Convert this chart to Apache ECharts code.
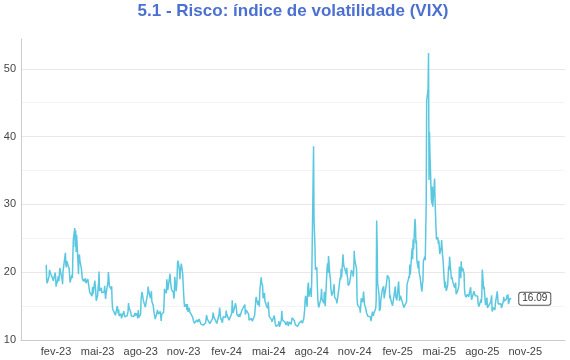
<!DOCTYPE html>
<html><head><meta charset="utf-8">
<script src="https://cdn.jsdelivr.net/npm/echarts@6/dist/echarts.min.js"></script>
<style>html,body{margin:0;padding:0;background:#fff}#c{width:570px;height:360px}</style>
</head><body><div id="c"></div>
<script>
const chartTitle = '5.1 - Risco: índice de volatilidade (VIX)';

// Trading days per month (index 0 = January), and VIX closes for those days
const days2023 = [
  '11 12 13 17 18 19 20 23 24 25 26 27 30 31',
  '1 2 3 6 7 8 9 10 13 14 15 16 17 21 22 23 24 27 28',
  '1 2 3 6 7 8 9 10 13 14 15 16 17 20 21 22 23 24 27 28 29 30 31',
  '3 4 5 6 10 11 12 13 14 17 18 19 20 21 24 25 26 27 28',
  '1 2 3 4 5 8 9 10 11 12 15 16 17 18 19 22 23 24 25 26 30 31',
  '1 2 5 6 7 8 9 12 13 14 15 16 20 21 22 23 26 27 28 29 30',
  '3 5 6 7 10 11 12 13 14 17 18 19 20 21 24 25 26 27 28 31',
  '1 2 3 4 7 8 9 10 11 14 15 16 17 18 21 22 23 24 25 28 29 30 31',
  '1 5 6 7 8 11 12 13 14 15 18 19 20 21 22 25 26 27 28 29',
  '2 3 4 5 6 9 10 11 12 13 16 17 18 19 20 23 24 25 26 27 30 31',
  '1 2 3 6 7 8 9 10 13 14 15 16 17 20 21 22 24 27 28 29 30',
  '1 4 5 6 7 8 11 12 13 14 15 18 19 20 21 22 26 27 28 29'
];
const vix2023 = [
  [21.09,18.83,18.35,19.36,20.34,20.52,19.85,19.81,19.20,19.08,18.73,18.51,19.94,19.40],
  [17.87,18.73,18.33,19.43,18.66,19.63,20.63,20.53,20.34,18.91,18.23,20.17,20.02,22.87,21.14,20.70,21.67,20.95,20.70],
  [20.58,19.59,18.49,18.61,19.59,19.11,22.61,24.80,26.52,23.73,26.14,22.99,25.51,21.38,19.75,22.26,22.61,21.74,20.60,19.97,19.12,19.02,18.70],
  [19.00,18.58,19.08,18.40,18.97,19.09,19.09,18.91,17.07,17.07,16.83,16.46,17.80,16.77,16.89,18.76,18.84,17.03,15.78],
  [16.59,17.78,18.34,20.09,17.19,16.98,17.71,16.94,16.93,17.03,17.12,17.99,16.87,16.05,16.81,16.87,18.53,20.03,19.14,17.95,17.46,17.94],
  [15.65,14.60,14.73,13.96,13.94,13.65,13.83,15.01,14.61,13.88,14.50,13.54,13.88,13.20,12.91,13.44,14.25,13.74,13.43,13.54,13.59],
  [13.57,14.18,15.44,14.83,14.84,14.06,13.54,13.61,13.34,13.48,13.30,13.76,13.99,13.60,13.91,13.86,13.19,14.41,13.33,13.63],
  [13.93,16.09,15.92,17.10,15.77,15.99,15.96,15.85,14.84,14.82,16.46,16.78,17.89,17.30,17.13,16.14,15.98,17.20,15.68,15.08,14.45,13.88,13.57],
  [13.09,14.02,14.45,14.40,13.84,13.80,14.23,13.48,12.82,13.79,14.00,14.11,15.14,17.54,17.20,16.90,18.94,18.22,17.34,17.52],
  [17.61,19.78,18.58,18.49,17.45,17.70,17.03,16.09,16.69,19.32,17.21,17.88,19.22,21.40,21.71,20.37,18.97,20.19,20.68,21.27,19.75,18.14],
  [16.87,15.66,14.91,14.89,15.29,14.45,15.29,14.17,14.76,14.16,14.18,14.32,13.80,13.41,13.35,12.85,12.46,12.69,12.69,12.98,12.92],
  [12.63,13.08,12.85,12.97,12.93,12.35,12.63,12.07,12.19,12.48,12.28,12.56,12.53,13.67,13.65,13.03,12.99,12.43,12.47,12.45]
];
const days2024 = [
  '2 3 4 5 8 9 10 11 12 16 17 18 19 22 23 24 25 26 29 30 31',
  '1 2 5 6 7 8 9 12 13 14 15 16 20 21 22 23 26 27 28 29',
  '1 4 5 6 7 8 11 12 13 14 15 18 19 20 21 22 25 26 27 28',
  '1 2 3 4 5 8 9 10 11 12 15 16 17 18 19 22 23 24 25 26 29 30',
  '1 2 3 6 7 8 9 10 13 14 15 16 17 20 21 22 23 24 28 29 30 31',
  '3 4 5 6 7 10 11 12 13 14 17 18 20 21 24 25 26 27 28',
  '1 2 3 5 8 9 10 11 12 15 16 17 18 19 22 23 24 25 26 29 30 31',
  '1 2 5 6 7 8 9 12 13 14 15 16 19 20 21 22 23 26 27 28 29 30',
  '3 4 5 6 9 10 11 12 13 16 17 18 19 20 23 24 25 26 27 30',
  '1 2 3 4 7 8 9 10 11 14 15 16 17 18 21 22 23 24 25 28 29 30 31',
  '1 4 5 6 7 8 11 12 13 14 15 18 19 20 21 22 25 26 27 29',
  '2 3 4 5 6 9 10 11 12 13 16 17 18 19 20 23 24 26 27 30 31'
];
const vix2024 = [
  [13.20,14.04,14.13,13.35,13.08,12.76,12.69,12.44,12.70,13.84,14.79,14.13,13.30,13.19,12.55,13.14,13.45,13.26,13.60,13.31,14.35],
  [13.88,13.85,13.67,12.93,12.83,12.79,12.93,13.93,15.85,14.38,14.01,14.24,15.42,15.34,14.54,13.75,13.74,13.43,13.84,13.40],
  [13.11,13.49,14.46,14.50,14.44,14.74,15.23,13.75,13.75,14.40,14.41,14.33,13.82,12.92,13.06,13.06,13.19,12.94,12.78,13.01],
  [13.65,14.61,14.33,16.35,16.03,15.19,14.98,15.80,14.91,17.31,19.23,18.40,18.21,18.00,16.14,16.94,15.69,15.97,15.37,15.03,14.67,15.65],
  [14.68,13.49,13.49,13.23,13.00,12.69,12.69,12.55,13.60,13.42,12.45,12.42,11.99,12.15,11.86,12.29,12.77,11.93,12.92,14.28,13.29,12.92],
  [13.11,13.06,12.63,12.58,12.22,12.74,12.85,12.04,11.94,12.66,12.75,12.30,13.28,13.20,13.33,12.84,12.55,12.24,12.44],
  [12.22,12.03,12.09,12.48,12.37,12.51,12.85,12.89,12.46,13.12,13.19,14.48,15.93,16.52,14.91,14.72,18.04,18.46,16.39,16.60,17.69,16.36],
  [18.59,23.39,38.57,27.71,27.85,23.79,20.37,20.71,18.12,16.19,15.23,14.80,14.65,15.88,16.27,17.55,16.03,16.15,15.43,17.11,15.65,15.00],
  [20.72,21.32,19.90,22.38,19.45,19.08,17.69,17.07,16.56,17.14,17.61,18.23,16.33,16.15,15.89,15.39,15.41,15.37,16.96,16.73],
  [19.26,18.90,20.49,19.21,22.64,21.42,20.86,20.93,20.46,19.70,20.64,19.58,19.11,18.03,18.37,18.20,19.24,19.08,20.33,19.80,19.34,20.35,23.16],
  [21.88,21.98,20.49,16.27,15.20,14.94,14.97,14.71,14.02,14.31,16.14,15.58,16.35,17.16,16.87,15.24,14.60,14.10,14.10,13.51],
  [13.34,13.30,13.45,13.54,12.77,14.19,14.18,13.58,13.92,13.81,14.69,15.87,27.62,24.09,18.36,16.78,14.27,14.73,15.95,17.40,17.35]
];
const days2025 = [
  '2 3 6 7 8 10 13 14 15 16 17 21 22 23 24 27 28 29 30 31',
  '3 4 5 6 7 10 11 12 13 14 18 19 20 21 24 25 26 27 28',
  '3 4 5 6 7 10 11 12 13 14 17 18 19 20 21 24 25 26 27 28 31',
  '1 2 3 4 7 8 9 10 11 14 15 16 17 21 22 23 24 25 28 29 30',
  '1 2 5 6 7 8 9 12 13 14 15 16 19 20 21 22 23 27 28 29 30',
  '2 3 4 5 6 9 10 11 12 13 16 17 18 20 23 24 25 26 27 30',
  '1 2 3 7 8 9 10 11 14 15 16 17 18 21 22 23 24 25 28 29 30 31',
  '1 4 5 6 7 8 11 12 13 14 15 18 19 20 21 22 25 26 27 28 29',
  '2 3 4 5 8 9 10 11 12 15 16 17 18 19 22 23 24 25 26 29 30',
  '1 2'
];
const vix2025 = [
  [17.93,16.13,16.04,17.82,17.70,19.54,19.19,18.71,16.12,16.60,15.97,15.06,15.10,15.02,14.85,17.90,16.41,16.56,15.84,16.43],
  [18.62,17.21,15.77,15.50,16.54,15.81,16.02,15.89,15.10,14.77,15.35,15.27,15.66,18.21,18.98,19.43,19.10,21.13,19.63],
  [22.78,23.51,21.93,24.87,23.37,27.86,26.92,24.23,24.66,21.77,20.51,21.70,19.90,19.80,19.28,17.48,17.15,18.33,18.69,21.65,22.28],
  [21.77,21.51,30.02,45.31,46.98,52.33,33.62,40.72,37.56,30.89,30.12,32.64,29.65,33.82,30.57,28.45,26.47,24.84,25.15,24.17,24.70],
  [24.60,22.68,23.64,24.76,23.55,22.48,21.90,18.39,17.71,18.62,17.83,17.24,18.14,18.09,20.87,20.28,22.29,18.96,19.31,19.18,18.57],
  [18.36,17.69,17.61,18.48,16.77,17.16,16.95,17.26,18.02,20.82,19.11,21.60,20.14,20.62,19.83,17.48,16.76,16.59,16.32,16.73],
  [16.83,16.64,16.38,17.79,16.81,15.94,15.78,16.40,17.20,17.38,17.16,16.52,16.41,16.65,16.50,15.37,15.39,14.93,15.03,15.98,15.48,16.72],
  [20.38,17.52,17.85,16.77,16.57,15.15,16.25,14.73,14.49,14.83,15.09,15.00,15.57,15.69,16.60,14.22,14.79,14.62,14.85,14.43,15.36],
  [17.17,16.35,15.30,15.18,15.11,15.04,15.35,14.71,14.76,15.69,16.36,15.72,15.70,15.45,16.10,16.64,16.18,16.74,15.29,16.12,16.28],
  [16.29,16.09]
];

const tickDates = ['2023-02-01','2023-05-01','2023-08-01','2023-11-01','2024-02-01','2024-05-01',
                   '2024-08-01','2024-11-01','2025-02-01','2025-05-01','2025-08-01','2025-11-01'];
const tickLabels = ['fev-23','mai-23','ago-23','nov-23','fev-24','mai-24',
                    'ago-24','nov-24','fev-25','mai-25','ago-25','nov-25'];
const xStart = '2022-11-18';
const xEnd = '2026-01-25';
const yMin = 10, yMax = 54.4, yStep = 10;

function ts(s) { const p = s.split('-').map(Number); return new Date(p[0], p[1] - 1, p[2]).getTime(); }
const seriesData = [];
function addYear(year, days, vals) {
  days.forEach(function (str, mi) {
    str.split(' ').forEach(function (d, i) {
      seriesData.push([new Date(year, mi, +d).getTime(), vals[mi][i]]);
    });
  });
}
addYear(2023, days2023, vix2023);
addYear(2024, days2024, vix2024);
addYear(2025, days2025, vix2025);
const tickTs = tickDates.map(ts);

const font = 'Liberation Sans, Arial, Helvetica, sans-serif';
const chart = echarts.init(document.getElementById('c'), null, { renderer: 'canvas' });
chart.setOption({
  animation: false,
  textStyle: { fontFamily: font },
  title: {
    text: chartTitle, left: 293, top: 3, padding: 0, textAlign: 'center',
    textStyle: { color: '#4b70d2', fontSize: 17, fontWeight: 'bold', fontFamily: font }
  },
  grid: { left: 21, right: 5, top: 39, bottom: 20, containLabel: false },
  xAxis: {
    type: 'value', min: ts(xStart), max: ts(xEnd), scale: true,
    axisLine: { show: true, lineStyle: { color: '#cccccc', width: 1 } },
    axisTick: { show: false },
    splitLine: { show: false },
    axisLabel: {
      customValues: tickTs, hideOverlap: false, color: '#444', fontSize: 11, margin: 6,
      formatter: function (v) {
        for (let i = 0; i < tickTs.length; i++) { if (Math.abs(tickTs[i] - v) < 43200000) return tickLabels[i]; }
        return '';
      }
    }
  },
  yAxis: {
    type: 'value', min: yMin, max: yMax, interval: yStep,
    axisLine: { show: true, lineStyle: { color: '#cccccc', width: 1 } },
    axisTick: { show: false },
    axisLabel: { color: '#444', fontSize: 11, margin: 5, showMaxLabel: false },
    splitLine: { show: true, showMaxLine: false, lineStyle: { color: '#e8e8e8' } },
    minorTick: { show: false, splitNumber: 2 },
    minorSplitLine: { show: true, lineStyle: { color: '#f4f4f4' } }
  },
  series: [{
    type: 'line', data: seriesData, showSymbol: false, symbol: 'none',
    lineStyle: { color: '#5bc8e0', width: 1.5 },
    itemStyle: { color: '#5bc8e0' },
    endLabel: {
      show: true, distance: 8,
      formatter: function (p) { return p.value[1].toFixed(2); },
      color: '#333', fontSize: 10, fontFamily: font,
      backgroundColor: '#fff', borderColor: '#555', borderWidth: 1, borderRadius: 2,
      padding: [1, 3, 1, 3]
    }
  }]
});
</script></body></html>
